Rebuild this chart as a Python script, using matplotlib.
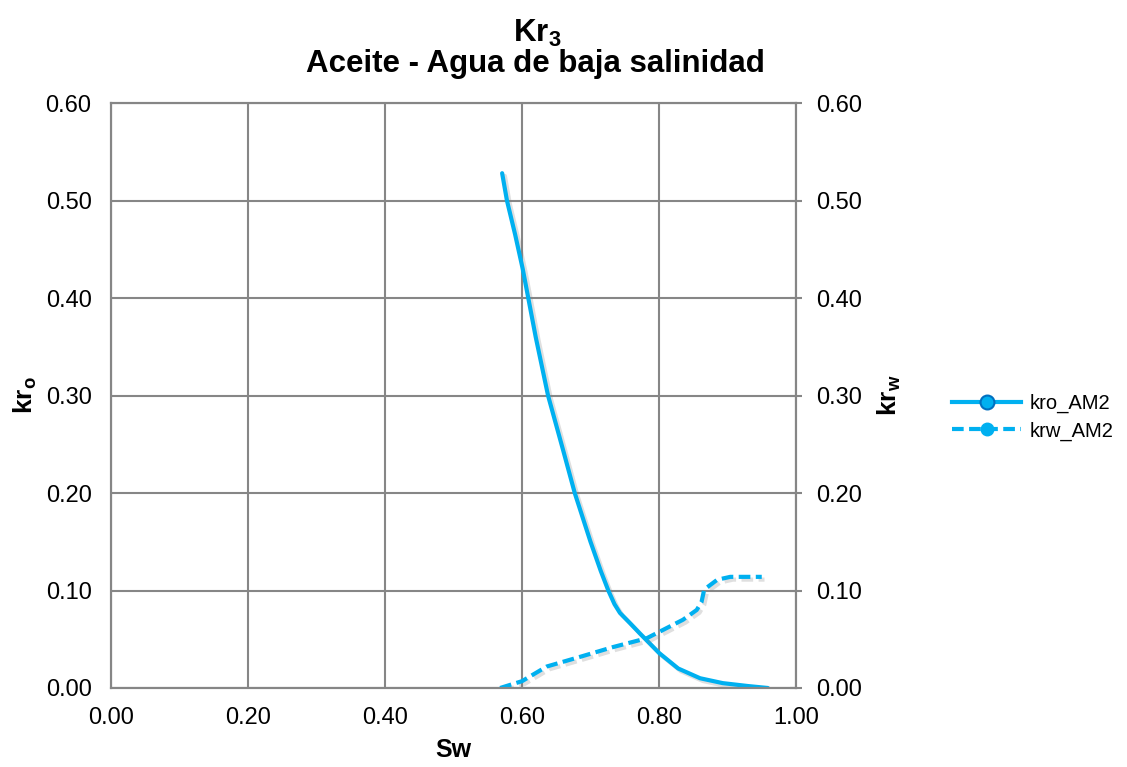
import matplotlib.pyplot as plt
import matplotlib.patheffects as pe
from matplotlib.ticker import FormatStrFormatter

plt.rcParams['font.family'] = ['Liberation Sans', 'DejaVu Sans']
plt.rcParams['mathtext.fontset'] = 'custom'
plt.rcParams['mathtext.rm'] = 'Liberation Sans'
plt.rcParams['mathtext.bf'] = 'Liberation Sans:bold'

# kro_AM2 curve
sw_kro = [0.571, 0.578, 0.590, 0.601, 0.620, 0.638, 0.660, 0.677, 0.700, 0.715,
          0.726, 0.735, 0.743, 0.757, 0.772, 0.800, 0.828, 0.860, 0.893, 0.930, 0.959]
kro = [0.528, 0.500, 0.465, 0.430, 0.360, 0.300, 0.244, 0.200, 0.150, 0.120,
       0.100, 0.086, 0.077, 0.067, 0.056, 0.036, 0.020, 0.010, 0.005, 0.002, 0.000]

# krw_AM2 curve
sw_krw = [0.568, 0.600, 0.636, 0.685, 0.733, 0.782, 0.835, 0.855, 0.862, 0.866,
          0.885, 0.904, 0.950]
krw = [0.000, 0.007, 0.022, 0.032, 0.042, 0.051, 0.070, 0.080, 0.088, 0.101,
       0.111, 0.114, 0.114]

x_ticks = [0.0, 0.2, 0.4, 0.6, 0.8, 1.0]
y_ticks = [0.0, 0.1, 0.2, 0.3, 0.4, 0.5, 0.6]

blue = '#00B0F0'
edge = '#0070C0'
grid_c = '#868686'
dash = (0, (2.8, 1.3))
shadow = [pe.SimpleLineShadow(offset=(2, -2), shadow_color='gray', alpha=0.25),
          pe.Normal()]

fig = plt.figure(figsize=(11.27, 7.67), dpi=100)
ax = fig.add_axes([0.0985, 0.103, 0.6078, 0.7627])
ax2 = ax.twinx()

ax.plot(sw_kro, kro, color=blue, lw=3, solid_capstyle='round',
        solid_joinstyle='round', path_effects=shadow)
ax2.plot(sw_krw, krw, color=blue, lw=3, ls=dash, path_effects=shadow)

for a in (ax, ax2):
    a.set_xlim(0, 1)
    a.set_ylim(0, 0.6)
    a.set_yticks(y_ticks)
    a.yaxis.set_major_formatter(FormatStrFormatter('%.2f'))
    for s in a.spines.values():
        s.set_color(grid_c)
        s.set_linewidth(1.5)

ax.set_xticks(x_ticks)
ax.xaxis.set_major_formatter(FormatStrFormatter('%.2f'))
ax.grid(True, color=grid_c, lw=1.5)
ax.set_axisbelow(True)
ax.tick_params(axis='both', length=0, labelsize=17, pad=14)
ax2.tick_params(axis='y', direction='inout', length=9, width=1.5,
                color=grid_c, labelsize=17, pad=10)

ax.set_xlabel('Sw', fontsize=18, fontweight='bold', labelpad=6)
ax.set_ylabel(r'$\mathbf{kr_o}$', fontsize=19, labelpad=5)
ax2.set_ylabel(r'$\mathbf{kr_w}$', fontsize=19, labelpad=10)

fig.text(0.477, 0.956, r'$\mathbf{Kr_3}$', fontsize=22.5, ha='center', va='center')
fig.text(0.475, 0.917, 'Aceite - Agua de baja salinidad', fontsize=22.5,
         fontweight='bold', ha='center', va='center')

# legend handles with markers like the reference
h1, = ax.plot([], [], color=blue, lw=3, marker='o', ms=10, mfc=blue, mec=edge, mew=1.5)
h2, = ax.plot([], [], color=blue, lw=3, ls=dash, marker='o', ms=9,
              mfc=blue, mec=blue)
fig.legend([h1, h2], ['kro_AM2', 'krw_AM2'], loc='center left',
           bbox_to_anchor=(0.829, 0.456), frameon=False, fontsize=14.5,
           handlelength=3.4, labelspacing=0.4, handletextpad=0.45)

fig.savefig('out.png', dpi=100)
